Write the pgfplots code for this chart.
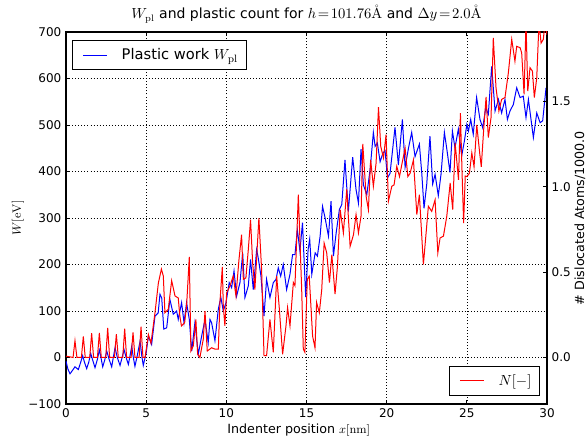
\documentclass[border=0pt]{standalone}
\usepackage[no-math]{fontspec}
\setmainfont{DejaVu Sans}
\usepackage{pgfplots}
\pgfplotsset{compat=1.18}
\usetikzlibrary{calc}

% blue: plastic work W_pl [eV]
\pgfplotstableread{
x W
0.00 -8
0.12 -25
0.25 -35
0.40 -28
0.56 -20
0.77 -26
0.90 -12
1.04 4
1.15 -10
1.29 -24
1.42 -10
1.54 9
1.66 -5
1.81 -22
1.95 -5
2.08 16
2.18 0
2.29 -20
2.42 -5
2.54 14
2.70 -5
2.85 -20
2.95 0
3.06 21
3.20 0
3.37 -17
3.50 0
3.62 17
3.75 0
3.89 -15
4.00 5
4.10 24
4.20 0
4.30 -19
4.45 5
4.62 35
4.72 5
4.82 -17
5.00 10
5.14 46
5.34 28
5.55 89
5.75 96
5.86 136
5.97 128
6.10 61
6.28 64
6.48 125
6.69 93
6.90 100
7.00 82
7.21 118
7.36 75
7.52 118
7.69 82
7.84 14
8.04 75
8.25 7
8.46 46
8.67 82
8.87 32
8.98 82
9.08 75
9.29 36
9.50 104
9.66 129
9.81 100
9.98 118
10.18 161
10.33 150
10.48 186
10.64 132
10.85 161
11.02 225
11.16 129
11.37 154
11.51 211
11.68 146
11.89 232
11.99 214
12.16 175
12.35 89
12.51 168
12.72 129
12.93 161
13.10 168
13.24 193
13.39 175
13.55 200
13.76 146
13.97 179
14.13 221
14.28 221
14.43 275
14.59 229
14.75 290
14.95 130
15.10 232
15.20 255
15.33 179
15.54 225
15.68 218
15.85 261
16.00 325
16.16 300
16.37 261
16.53 336
16.68 218
16.85 268
17.05 318
17.20 329
17.40 425
17.61 314
17.88 431
18.09 361
18.24 332
18.40 448
18.55 371
18.76 350
18.97 405
19.17 484
19.28 454
19.42 461
19.59 421
19.76 439
19.90 445
20.05 386
20.21 396
20.38 450
20.52 495
20.73 414
20.98 512
21.15 409
21.36 450
21.56 484
21.77 432
22.04 459
22.19 396
22.33 321
22.50 373
22.70 476
22.87 373
23.02 394
23.22 348
23.39 394
23.60 484
23.74 451
23.95 398
24.10 487
24.26 451
24.47 491
24.68 434
24.85 466
25.00 501
25.10 487
25.24 512
25.40 480
25.61 559
25.82 512
25.99 494
26.18 537
26.34 523
26.55 626
26.76 530
26.97 555
27.17 526
27.38 555
27.53 512
27.69 530
27.90 544
28.11 580
28.32 559
28.52 562
28.69 516
28.84 555
29.15 473
29.36 526
29.57 505
29.73 509
29.94 580
30.00 555
}\wpl

% red: dislocated atoms / 1000
\pgfplotstableread{
x N
0.00 0.008
0.44 0
0.56 0.098
0.68 0
0.96 0
1.08 0.123
1.20 0
1.48 0
1.60 0.142
1.72 0
1.96 0
2.08 0.144
2.20 0
2.48 0
2.60 0.174
2.72 0
3.02 0
3.14 0.136
3.26 0
3.54 0
3.66 0.169
3.78 0
4.06 0
4.18 0.147
4.30 0
4.56 0
4.68 0.180
4.80 0
4.93 0
5.14 0.134
5.30 0.084
5.55 0.262
5.76 0.436
5.95 0.518
6.07 0.477
6.17 0.262
6.38 0.283
6.59 0.450
6.80 0.360
7.00 0.349
7.10 0.243
7.20 0.185
7.40 0.204
7.52 0.302
7.69 0.589
7.79 0.038
7.94 0.068
8.10 0.223
8.21 0.019
8.35 0.000
8.56 0.106
8.67 0.272
8.81 0.038
9.08 0.057
9.29 0.049
9.50 0.049
9.60 0.322
9.75 0.531
9.81 0.302
9.91 0.185
10.02 0.379
10.23 0.420
10.43 0.477
10.60 0.360
10.79 0.575
10.95 0.719
11.06 0.458
11.22 0.466
11.37 0.632
11.51 0.807
11.64 0.556
11.78 0.398
12.03 0.817
12.20 0.515
12.35 0.011
12.51 0.011
12.72 0.223
12.93 0.030
13.14 0.477
13.30 0.292
13.51 0.019
13.72 0.185
13.82 0.292
13.97 0.185
14.18 0.439
14.28 0.420
14.49 0.954
14.70 0.398
14.80 0.049
14.90 0.030
15.05 0.458
15.17 0.477
15.38 0.125
15.53 0.057
15.63 0.322
15.80 0.262
15.95 0.398
16.10 0.670
16.26 0.613
16.43 0.439
16.58 0.602
16.78 0.371
16.93 0.534
17.10 0.866
17.30 0.730
17.51 0.984
17.72 0.651
17.93 0.719
18.09 0.837
18.24 0.730
18.40 0.828
18.51 1.251
18.72 0.943
18.86 0.866
19.00 1.158
19.17 1.003
19.34 1.139
19.49 1.466
19.63 1.237
19.80 1.169
19.96 1.305
20.11 0.916
20.32 1.003
20.46 1.011
20.63 1.120
20.80 1.060
20.94 1.128
21.15 1.226
21.32 1.060
21.46 1.079
21.67 1.158
21.88 0.837
22.04 0.954
22.29 0.545
22.46 0.730
22.60 0.886
22.81 0.856
23.02 0.924
23.19 0.613
23.33 0.700
23.54 0.711
23.75 0.828
23.96 1.022
24.12 0.866
24.27 1.256
24.48 1.041
24.60 1.431
24.70 1.090
24.80 0.787
24.90 1.063
25.00 1.060
25.16 1.079
25.31 1.199
25.45 1.117
25.62 1.362
25.80 1.199
25.90 1.117
26.05 1.335
26.20 1.526
26.34 1.289
26.51 1.406
26.65 1.872
26.82 1.580
27.00 1.444
27.17 1.512
27.38 1.523
27.59 1.668
27.80 1.864
28.00 1.736
28.11 1.823
28.32 1.815
28.42 1.785
28.57 1.542
28.69 1.962
28.80 1.561
28.94 1.698
29.09 1.678
29.21 1.523
29.36 1.638
29.50 1.962
29.63 1.842
29.77 1.864
29.88 1.962
30.00 1.891
}\ndisl

\pgfplotsset{
  base/.style={
    scale only axis, width=360.75pt, height=279pt,
    xmin=0, xmax=30,
    tick align=inside, major tick length=3pt,
    axis line style={line width=0.8pt},
    every tick/.style={black, line width=0.6pt},
    tick label style={font=\fontsize{9}{10}\selectfont},
    label style={font=\fontsize{9.5}{11}\selectfont},
    legend image code/.code={%
      \path[draw=none, fill=none] (-4pt,-4pt) rectangle (27pt,4pt);
      \draw[#1] (0pt,0pt) -- (18pt,0pt);},
    legend style={draw=black, line width=0.6pt, font=\fontsize{11}{13}\selectfont,
      inner xsep=4pt, inner ysep=4pt},
  },
}

\begin{document}
\begin{tikzpicture}
\begin{axis}[base,
  ymin=-100, ymax=700,
  xtick={0,5,...,30},
  ytick={-100,0,100,200,300,400,500,600,700},
  yticklabels={−100,0,100,200,300,400,500,600,700},
  ytick pos=left,
  /pgf/number format/assume math mode=true,
  grid=major,
  major grid style={black, line width=0.5pt, dash pattern=on 0.6pt off 1.7pt},
  xlabel={Indenter position $x[\mathrm{nm}]$},
  ylabel={$W[\mathrm{eV}]$},
  xlabel style={at={(rel axis cs:0.484,-0.07)}, anchor=center},
  ylabel style={at={(rel axis cs:-0.0998,0.5)}, anchor=center},
  legend style={at={(0.0125,0.978)}, anchor=north west},
]
\addplot[blue, line width=0.75pt] table[x=x, y=W] {\wpl};
\addlegendentry{Plastic work $W_{\mathrm{pl}}$}
\coordinate (sw) at (rel axis cs:0,0);
\coordinate (ne) at (rel axis cs:1,1);
\coordinate (tt) at (rel axis cs:0.5,1.035);
\end{axis}
\begin{axis}[base,
  ymin=-0.2725, ymax=1.907,
  axis x line=none,
  axis y line*=right,
  ytick={0,0.5,1,1.5},
  yticklabels={0.0,0.5,1.0,1.5},
  ylabel={\# Dislocated Atoms/1000.0},
  ylabel style={at={(rel axis cs:1.0686,0.5)}, anchor=center},
  legend style={at={(0.985,0.022)}, anchor=south east},
]
\addplot[red, line width=0.75pt] table[x=x, y=N] {\ndisl};
\addlegendentry{$N[-]$}
\end{axis}
\node[font=\fontsize{10.5}{12}\selectfont, anchor=base] at (tt)
  {$W_{\mathrm{pl}}$ and plastic count for $h\!=\!101.76\mathring{\mathrm{A}}$ and $\Delta y\!=\!2.0\mathring{\mathrm{A}}$};
\pgfresetboundingbox
\useasboundingbox ($(sw)+(-49.5pt,-24.75pt)$) rectangle ($(ne)+(30.75pt,24pt)$);
\end{tikzpicture}
\end{document}
